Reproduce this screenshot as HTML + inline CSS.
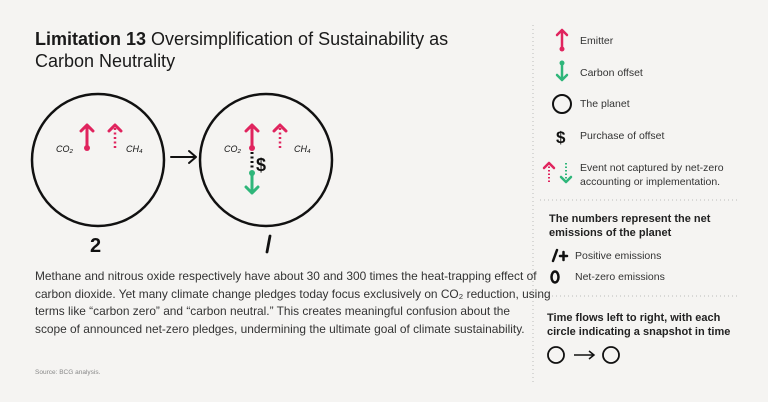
<!DOCTYPE html>
<html><head><meta charset="utf-8"><style>
body{margin:0;width:768px;height:402px;background:#f5f4f2;font-family:"Liberation Sans",sans-serif;color:#222;position:relative;overflow:hidden}
.a{position:absolute;white-space:nowrap}
h1{position:absolute;left:35px;top:28px;margin:0;font-size:18px;font-weight:normal;line-height:22px;color:#1a1a1a}
.p{position:absolute;left:35px;top:268px;font-size:11.9px;line-height:17.5px;color:#333;white-space:nowrap}
.l{font-size:10.5px;color:#333}
.b{font-size:11px;font-weight:bold;line-height:14px;color:#222}
</style></head><body>
<h1><b>Limitation 13</b> Oversimplification of Sustainability as<br>Carbon Neutrality</h1>
<svg width="768" height="402" style="position:absolute;left:0;top:0" fill="none">
<defs><g id="up"><path d="M0 0V-23M-6 -17L0 -23L6 -17" stroke-width="3" stroke-linecap="round" stroke-linejoin="round"/></g></defs>
<circle cx="98" cy="160" r="66" stroke="#111" stroke-width="2.5"/>
<g stroke="#e0245e"><use href="#up" x="87" y="148"/></g>
<circle cx="87" cy="148" r="3" fill="#e0245e"/>
<path d="M115 148V128" stroke="#e0245e" stroke-width="2.5" stroke-dasharray="2 2.5"/>
<path d="M109 131L115 125L121 131" stroke="#e0245e" stroke-width="3" stroke-linecap="round" stroke-linejoin="round"/>
<text x="56" y="152" font-size="9" fill="#111" font-style="italic" font-family="Liberation Sans">CO₂</text>
<text x="126" y="152" font-size="9" fill="#111" font-style="italic" font-family="Liberation Sans">CH₄</text>
<path d="M171 157H196M189 151L196 157L189 163" stroke="#111" stroke-width="2" stroke-linecap="round" stroke-linejoin="round"/>
<circle cx="266" cy="160" r="66" stroke="#111" stroke-width="2.5"/>
<g stroke="#e0245e"><use href="#up" x="252" y="148"/></g>
<circle cx="252" cy="148" r="3" fill="#e0245e"/>
<path d="M252 152V170" stroke="#111" stroke-width="3" stroke-dasharray="2 2.5"/>
<circle cx="252" cy="173" r="3" fill="#2fb67a"/>
<path d="M252 173V193M246 187L252 193L258 187" stroke="#2fb67a" stroke-width="3" stroke-linecap="round" stroke-linejoin="round"/>
<text x="256" y="171" font-size="18" font-weight="bold" fill="#111" font-family="Liberation Sans">$</text>
<path d="M280 148V128" stroke="#e0245e" stroke-width="2.5" stroke-dasharray="2 2.5"/>
<path d="M274 131L280 125L286 131" stroke="#e0245e" stroke-width="3" stroke-linecap="round" stroke-linejoin="round"/>
<text x="224" y="152" font-size="9" fill="#111" font-style="italic" font-family="Liberation Sans">CO₂</text>
<text x="294" y="152" font-size="9" fill="#111" font-style="italic" font-family="Liberation Sans">CH₄</text>
<text x="90" y="252" font-size="20" font-weight="bold" fill="#111" font-family="Liberation Sans">2</text>
<path d="M270 236L267 252" stroke="#111" stroke-width="2.8" stroke-linecap="round"/>
<path d="M533 25V385" stroke="#bbb" stroke-dasharray="1 3"/>
<path d="M540 200H740M540 296H740" stroke="#bbb" stroke-dasharray="1 3"/>
<path d="M562 48V30M557 35L562 30L567 35" stroke="#e0245e" stroke-width="2.5" stroke-linecap="round" stroke-linejoin="round"/>
<circle cx="562" cy="49" r="2.5" fill="#e0245e"/>
<circle cx="562" cy="63" r="2.5" fill="#2fb67a"/>
<path d="M562 63V80M557 75L562 80L567 75" stroke="#2fb67a" stroke-width="2.5" stroke-linecap="round" stroke-linejoin="round"/>
<circle cx="562" cy="104" r="9" stroke="#111" stroke-width="2"/>
<text x="556" y="143" font-size="17" font-weight="bold" fill="#111" font-family="Liberation Sans">$</text>
<path d="M549 182V166" stroke="#e0245e" stroke-width="2" stroke-dasharray="1.5 2"/>
<path d="M544 168L549 163L554 168" stroke="#e0245e" stroke-width="2.5" stroke-linecap="round" stroke-linejoin="round"/>
<path d="M566 163V180" stroke="#2fb67a" stroke-width="2" stroke-dasharray="1.5 2"/>
<path d="M561 177L566 182L571 177" stroke="#2fb67a" stroke-width="2.5" stroke-linecap="round" stroke-linejoin="round"/>
<path d="M553 261L557 250M560 256H567M563.5 252V260" stroke="#111" stroke-width="2.5" stroke-linecap="round"/>
<ellipse cx="555" cy="277" rx="3.5" ry="5.5" stroke="#111" stroke-width="2.5"/>
<circle cx="556" cy="355" r="8" stroke="#111" stroke-width="1.8"/>
<path d="M574 355H594M589 351L594 355L589 359" stroke="#111" stroke-width="1.5"/>
<circle cx="611" cy="355" r="8" stroke="#111" stroke-width="1.8"/>
</svg>
<div class="p">Methane and nitrous oxide respectively have about 30 and 300 times the heat-trapping effect of<br>carbon dioxide. Yet many climate change pledges today focus exclusively on CO₂ reduction, using<br>terms like “carbon zero” and “carbon neutral.” This creates meaningful confusion about the<br>scope of announced net-zero pledges, undermining the ultimate goal of climate sustainability.</div>
<div class="a" style="left:35px;top:369px;font-size:6.5px;color:#888">Source: BCG analysis.</div>
<div class="a l" style="left:580px;top:35px">Emitter</div>
<div class="a l" style="left:580px;top:67px">Carbon offset</div>
<div class="a l" style="left:580px;top:98px">The planet</div>
<div class="a l" style="left:580px;top:130px">Purchase of offset</div>
<div class="a l" style="left:580px;top:161px;line-height:14px">Event not captured by net-zero<br>accounting or implementation.</div>
<div class="a b" style="left:549px;top:212px">The numbers represent the net<br>emissions of the planet</div>
<div class="a l" style="left:575px;top:250px">Positive emissions</div>
<div class="a l" style="left:575px;top:271px">Net-zero emissions</div>
<div class="a b" style="left:547px;top:311px">Time flows left to right, with each<br>circle indicating a snapshot in time</div>
</body></html>
